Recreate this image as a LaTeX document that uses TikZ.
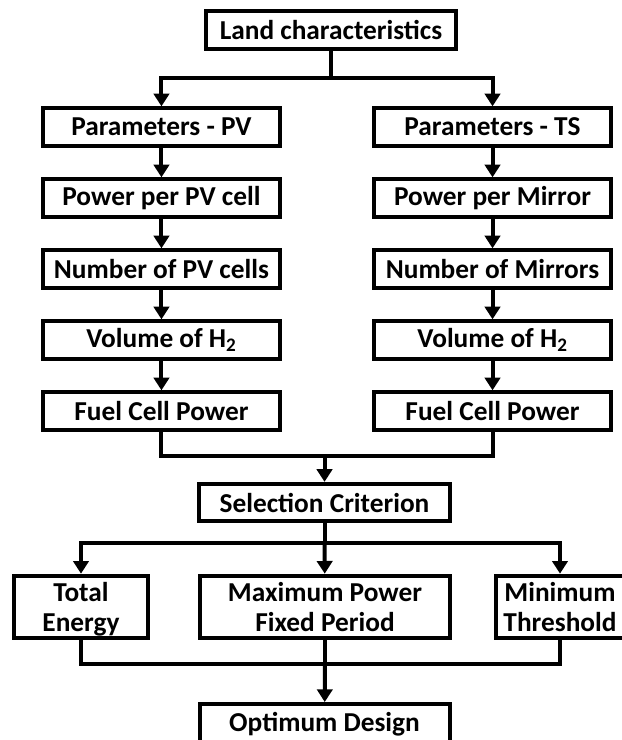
\documentclass[tikz,border=0pt]{standalone}
\usepackage{fontspec}
\setmainfont{Carlito}
\usetikzlibrary{positioning}
\usetikzlibrary{arrows.meta}

\tikzset{
  box/.style={draw, line width=3pt, minimum width=178pt, minimum height=28pt,
    inner sep=0pt, align=center, font=\bfseries\fontsize{20.5}{22.5}\selectfont},
  tallbox/.style={box, minimum height=47pt, text depth=0pt},
  link/.style={line width=3pt},
  flow/.style={line width=3pt, -{Triangle[length=9.5pt,width=11.5pt]}}
}

\begin{document}
\begin{tikzpicture}[node distance=53.25pt]
  \useasboundingbox (0,0) rectangle (466.5pt,-555pt);

  \node[box, minimum width=187pt] (land) at (248.25pt,-22.5pt) {Land characteristics};
  \coordinate[below=20.5pt of land] (split);

  \node[box] (parpv) at (121.1pt,-95.25pt) {Parameters - PV};
  \node[box, below of=parpv] (powpv) {Power per PV cell};
  \node[box, below of=powpv] (numpv) {Number of PV cells};
  \node[box, below of=numpv] (volpv) {Volume of H\textsubscript{2}};
  \node[box, below of=volpv] (fuelpv) {Fuel Cell Power};

  \node[box] (parts) at (369.4pt,-95.25pt) {Parameters - TS};
  \node[box, below of=parts] (powts) {Power per Mirror};
  \node[box, below of=powts] (numts) {Number of Mirrors};
  \node[box, below of=numts] (volts) {Volume of H\textsubscript{2}};
  \node[box, below of=volts] (fuelts) {Fuel Cell Power};

  \node[box, minimum width=188pt] (sel) at (243.4pt,-376.9pt) {Selection Criterion};
  \coordinate[above=19.5pt of sel] (join);
  \coordinate[below=15pt of sel] (fork);

  \node[tallbox, minimum width=100.5pt] (total) at (60.75pt,-455.25pt) {Total\\Energy};
  \node[tallbox, minimum width=187.5pt] (maxp) at (243.75pt,-455.25pt) {Maximum Power\\Fixed Period};
  \node[tallbox, minimum width=96pt] (minth) at (420pt,-455.25pt) {Minimum\\Threshold};
  \coordinate[below=17.75pt of maxp] (merge);

  \node[box, minimum width=187.5pt, minimum height=30pt] (opt) at (243.4pt,-543pt) {Optimum Design};

  \draw[link] (land) -- (split);
  \draw[flow] (split) -| (parpv);
  \draw[flow] (split) -| (parts);

  \draw[flow] (parpv) -- (powpv);
  \draw[flow] (powpv) -- (numpv);
  \draw[flow] (numpv) -- (volpv);
  \draw[flow] (volpv) -- (fuelpv);

  \draw[flow] (parts) -- (powts);
  \draw[flow] (powts) -- (numts);
  \draw[flow] (numts) -- (volts);
  \draw[flow] (volts) -- (fuelts);

  \draw[link] (fuelpv) |- (join) -| (fuelts);
  \draw[flow] (join) -- (sel);

  \draw[link] (sel) -- (fork);
  \draw[flow] (fork) -| (total);
  \draw[flow] (fork) -- (maxp);
  \draw[flow] (fork) -| (minth);

  \draw[link] (total) |- (merge) -| (minth);
  \draw[link] (maxp) -- (merge);
  \draw[flow] (merge) -- (opt);
\end{tikzpicture}
\end{document}
